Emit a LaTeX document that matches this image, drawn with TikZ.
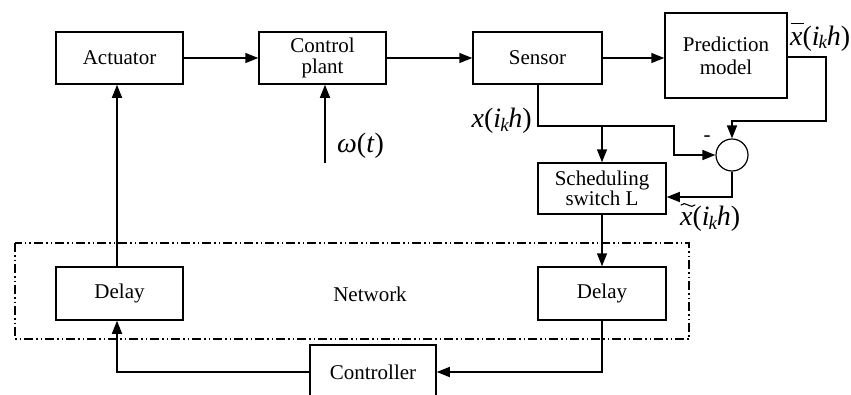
\documentclass[tikz,border=0pt]{standalone}
\usepackage{fontspec}
\setmainfont{Liberation Serif}
\usetikzlibrary{arrows.meta,calc}
\tikzset{
  blk/.style={draw, line width=1.5pt, minimum width=127pt, minimum height=52pt, inner sep=1pt, align=center, font=\fontsize{21}{25}\selectfont},
  conn/.style={line width=1.5pt},
  arr/.style={conn, -{Triangle[length=13pt,width=10pt]}},
  lbl/.style={font=\fontsize{28}{30}\selectfont, inner sep=0pt},
  netbox/.style={line width=1.3pt, dash pattern=on 9pt off 3pt on 1.5pt off 3pt on 1.5pt off 3pt}
}
\newcommand{\ikh}{(\textit{i}\kern-1pt\raisebox{-0.3ex}{\fontsize{19}{19}\selectfont\textit{k}}\kern-0.5pt\textit{h})}
\newcommand{\barx}{\makebox[0pt][l]{\kern0.04em\rule[0.74em]{0.46em}{1.3pt}}\textit{x}}
\begin{document}
\begin{tikzpicture}[x=1pt,y=-1pt]
\useasboundingbox (0,0) rectangle (851,394);
\clip (0,0) rectangle (851,394);
% network box
\draw[netbox] (15,243) rectangle (689,339);
\node[font=\fontsize{21}{25}\selectfont] (net) at (370,294) {Network};
% blocks
\node[blk] (act) at (119.5,58) {Actuator};
\node[blk] (plant) at (322.5,58) {Control\\[-4pt]plant};
\node[blk, minimum width=129pt] (sens) at (537.5,58) {Sensor};
\node[blk, minimum width=122pt, minimum height=85pt] (pred) at (726,55.5) {Prediction\\[-2pt]model};
\node[draw, circle, line width=1.2pt, minimum size=32pt, inner sep=0pt] (sum) at (732,155) {};
\node[blk, minimum width=128pt, minimum height=51pt] (sched) at (602,188.5) {Scheduling\\[-5pt]switch L};
\node[blk, minimum width=128pt, minimum height=53pt] (dr) at (602,293.5) {Delay};
\node[blk, minimum height=53pt] (dl) at (119.5,293.5) {Delay};
\node[blk, minimum width=126pt, minimum height=54pt] (ctrl) at (373,372) {Controller};
% coordinates
\coordinate (s1) at (538,126);
\coordinate (br) at (602,126);
\coordinate (s2) at (674,126);
\coordinate (s3) at (674,155);
\coordinate (p1) at (826,57);
\coordinate (p2) at (826,121);
\coordinate (p3) at (732,121);
\coordinate (c1) at (732,197);
\coordinate (d1) at (602,372);
\coordinate (d2) at (117,372);
\coordinate (w) at (325,163);
% connectors
\draw[arr] (act.east) -- (plant.west);
\draw[arr] (plant.east) -- (sens.west);
\draw[arr] (sens.east) -- (sens.east -| pred.west);
\draw[arr] (sens.south -| s1) -- (s1) -- (s2) -- (s3) -- (sum.west);
\draw[arr] (br) -- (sched.north);
\draw[arr] (pred.east |- p1) -- (p1) -- (p2) -- (p3) -- (sum.north);
\draw[arr] (sum.south) -- (c1) -- (c1 -| sched.east);
\draw[arr] (sched.south) -- (dr.north);
\draw[arr] (dr.south) -- (d1) -- (ctrl.east);
\draw[arr] (ctrl.west) -- (d2) -- (dl.south -| d2);
\draw[arr] (dl.north -| d2) -- (act.south -| d2);
\draw[arr] (w) -- (plant.south -| w);
% labels
\node[lbl, anchor=west] (lxt) at (680,219) {\textit{x}\ikh};
\coordinate (t0) at ($(lxt.west)+(1,-14)$);
\draw[line width=1.1pt, line cap=round] (t0) .. controls +(4,-5) and +(-4,5) .. ++(14,0);
\node[lbl, anchor=east] (lx) at (532,121) {\textit{x}\ikh};
\node[lbl, anchor=west] (lxb) at (790,37) {\barx\ikh};
\node[lbl, anchor=west] (lw) at (337,146) {\textit{ω}(\textit{t})};
\node[font=\fontsize{21}{22}\selectfont, inner sep=0pt] (minus) at (707,139) {-};
\end{tikzpicture}
\end{document}
